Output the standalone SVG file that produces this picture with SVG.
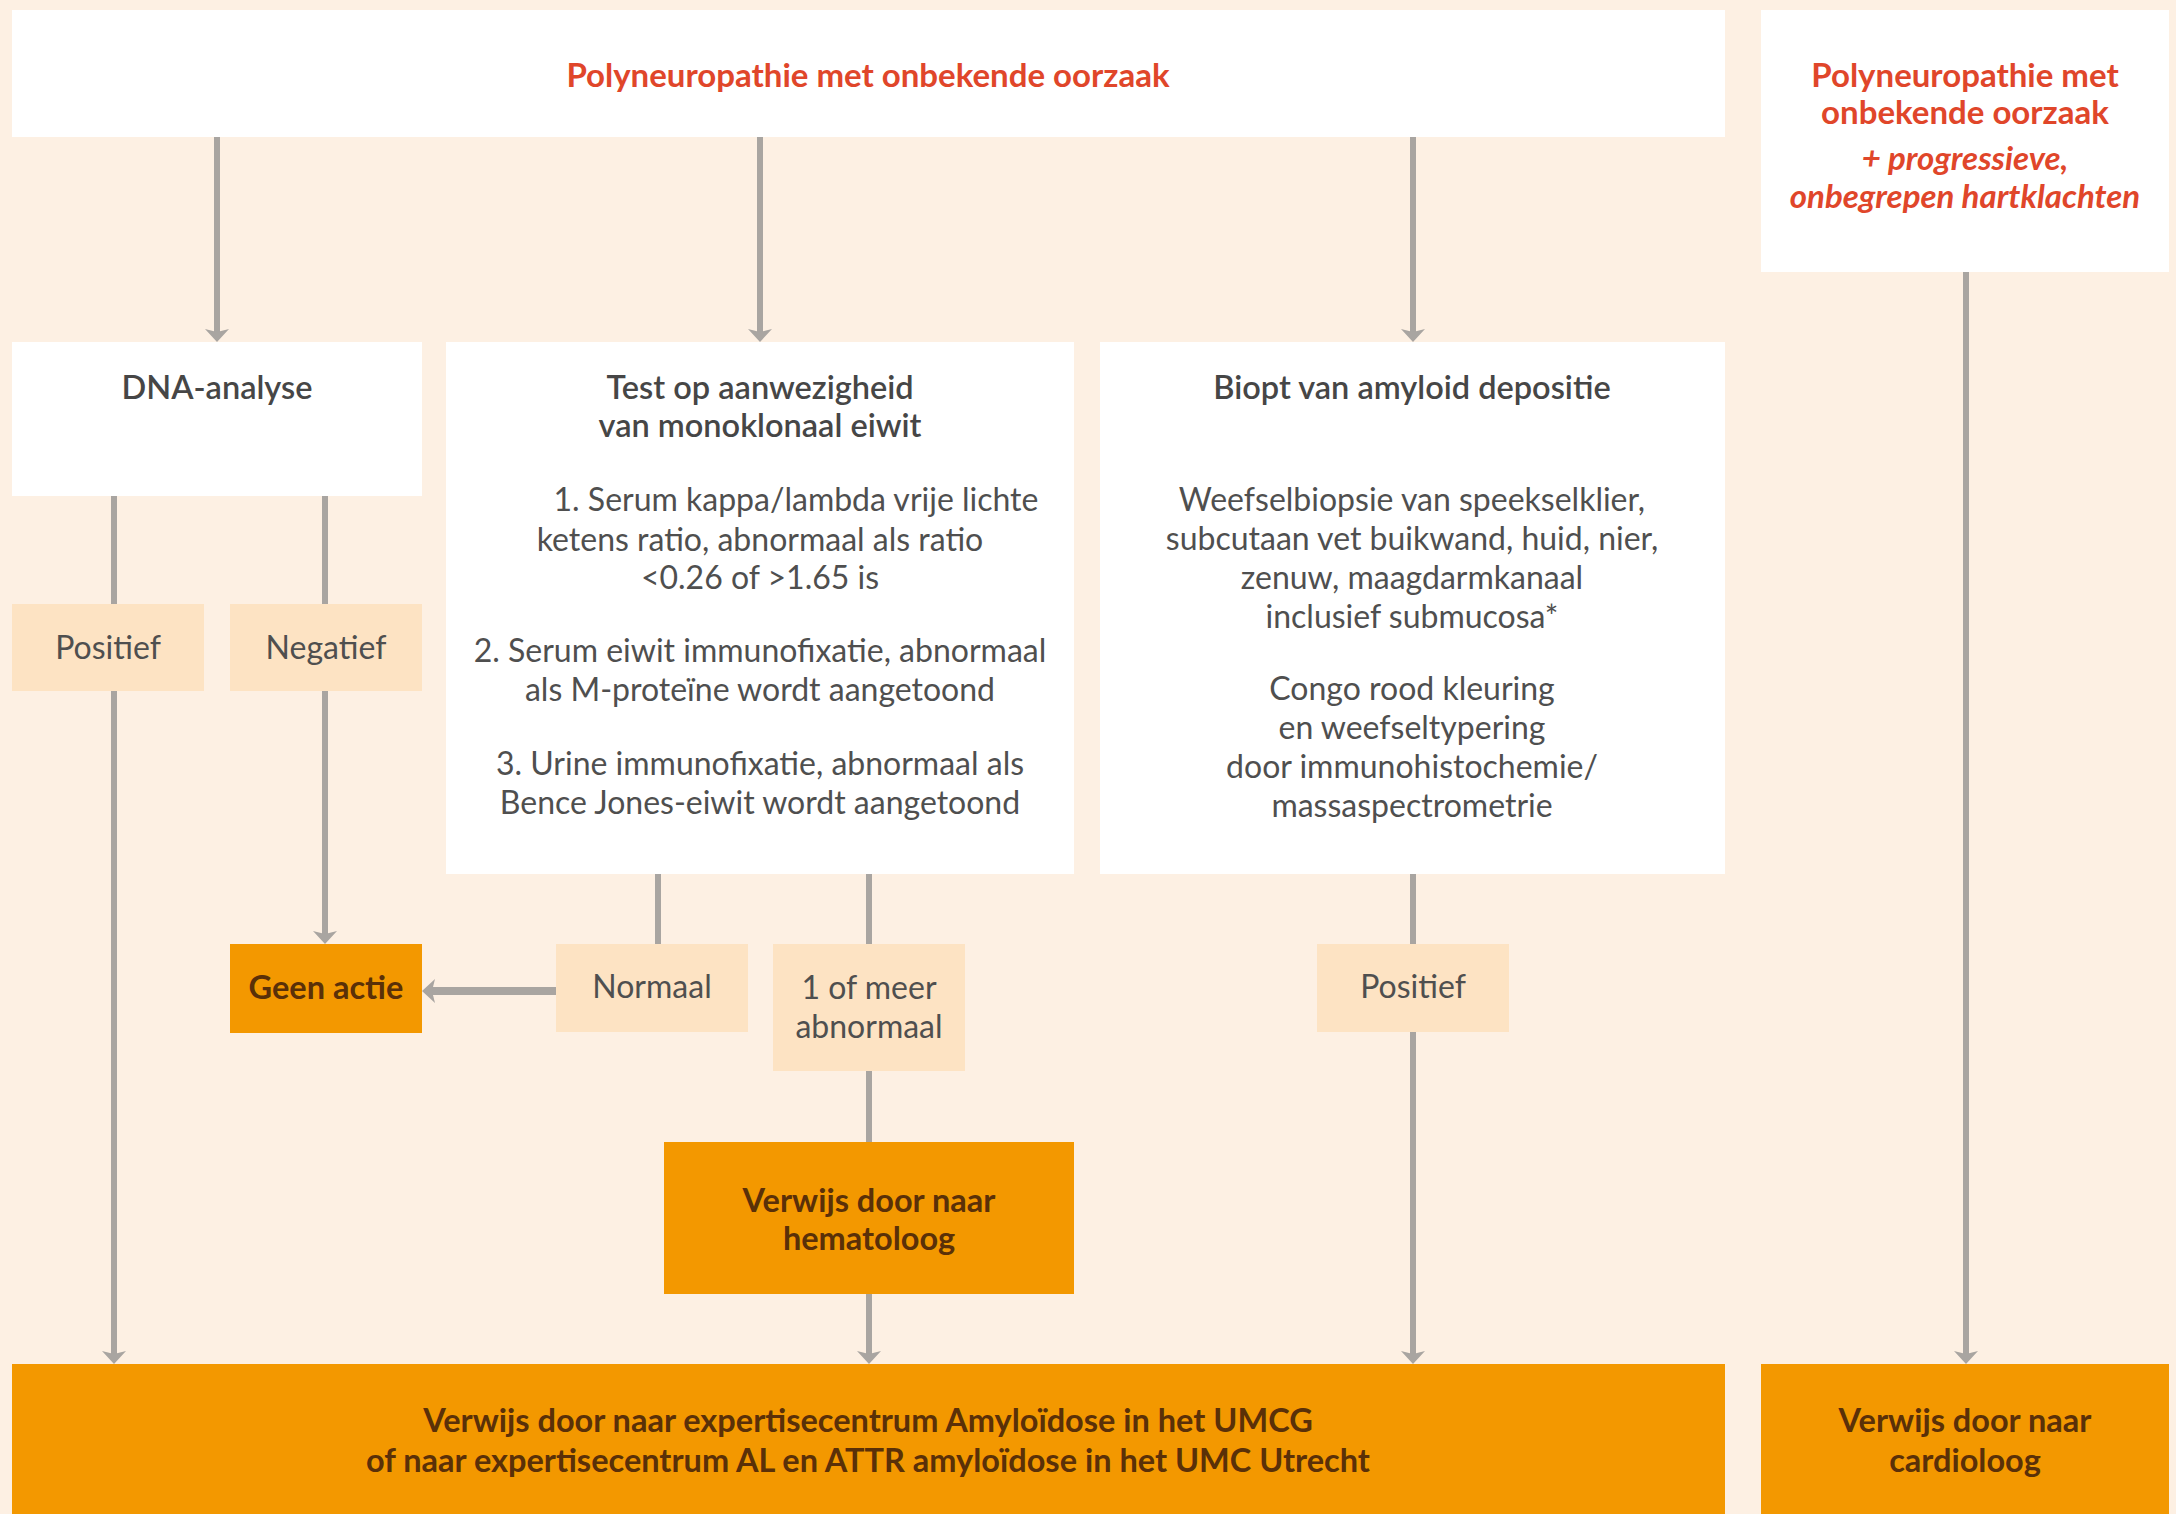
<svg xmlns="http://www.w3.org/2000/svg" width="2176" height="1514" viewBox="0 0 2176 1514">
  <defs>
    <marker id="arrow" markerUnits="userSpaceOnUse" markerWidth="16" markerHeight="26" viewBox="0 -13 16 26" refX="5" refY="0" orient="auto">
      <path d="M0,-12 L13,0 L0,12 L3,0 Z" fill="#a9a5a1"/>
    </marker>
    <style>
      text { font-family: Lato, "Open Sans", "Liberation Sans", sans-serif; text-anchor: middle; }
      .white { fill: #ffffff; }
      .label { fill: #fde3c3; }
      .orange { fill: #f39800; }
      .title { font-size: 33px; font-weight: 700; fill: #e0462a; }
      .titlei { font-size: 33px; font-weight: 700; font-style: italic; fill: #e0462a; }
      .head { font-size: 32.5px; font-weight: 600; fill: #464646; }
      .body { font-size: 32px; font-weight: 400; fill: #4f4f4f; }
      .lbl { font-size: 32px; font-weight: 400; fill: #4f4f4f; }
      .act { font-size: 32.5px; font-weight: 700; fill: #5a3008; }
      .conn { stroke: #a9a5a1; stroke-width: 6; fill: none; }
      .connw { stroke: #a9a5a1; stroke-width: 8; fill: none; }
    </style>
  </defs>
  <rect x="0" y="0" width="2176" height="1514" fill="#fdf0e3"/>

  <g id="connectors">
    <line class="conn" x1="217" y1="137" x2="217" y2="334" marker-end="url(#arrow)"/>
    <line class="conn" x1="760" y1="137" x2="760" y2="334" marker-end="url(#arrow)"/>
    <line class="conn" x1="1413" y1="137" x2="1413" y2="334" marker-end="url(#arrow)"/>
    <line class="conn" x1="1966" y1="272" x2="1966" y2="1356" marker-end="url(#arrow)"/>
    <line class="conn" x1="114" y1="496" x2="114" y2="604"/>
    <line class="conn" x1="114" y1="691" x2="114" y2="1356" marker-end="url(#arrow)"/>
    <line class="conn" x1="325" y1="496" x2="325" y2="604"/>
    <line class="conn" x1="325" y1="691" x2="325" y2="936" marker-end="url(#arrow)"/>
    <line class="conn" x1="658" y1="874" x2="658" y2="944"/>
    <line class="connw" x1="556" y1="991" x2="430" y2="991" marker-end="url(#arrow)"/>
    <line class="conn" x1="869" y1="874" x2="869" y2="944"/>
    <line class="conn" x1="869" y1="1071" x2="869" y2="1142"/>
    <line class="conn" x1="869" y1="1294" x2="869" y2="1356" marker-end="url(#arrow)"/>
    <line class="conn" x1="1413" y1="874" x2="1413" y2="944"/>
    <line class="conn" x1="1413" y1="1032" x2="1413" y2="1356" marker-end="url(#arrow)"/>
  </g>

  <g id="start">
    <rect class="white" x="12" y="10" width="1713" height="127"/>
    <text class="title" x="868" y="87">Polyneuropathie met onbekende oorzaak</text>
  </g>

  <g id="start-cardiac">
    <rect class="white" x="1761" y="10" width="408" height="262"/>
    <text class="title" x="1965" y="87">Polyneuropathie met</text>
    <text class="title" x="1965" y="124">onbekende oorzaak</text>
    <text class="titlei" x="1965" y="170">+ progressieve,</text>
    <text class="titlei" x="1965" y="208">onbegrepen hartklachten</text>
  </g>

  <g id="dna">
    <rect class="white" x="12" y="342" width="410" height="154"/>
    <text class="head" x="217" y="399">DNA-analyse</text>
  </g>

  <g id="test">
    <rect class="white" x="446" y="342" width="628" height="532"/>
    <text class="head" x="760" y="399">Test op aanwezigheid</text>
    <text class="head" x="760" y="437">van monoklonaal eiwit</text>
    <text class="body" x="796" y="511">1. Serum kappa/lambda vrije lichte</text>
    <text class="body" x="760" y="551">ketens ratio, abnormaal als ratio</text>
    <text class="body" x="760" y="589">&lt;0.26 of &gt;1.65 is</text>
    <text class="body" x="760" y="662">2. Serum eiwit immunofixatie, abnormaal</text>
    <text class="body" x="760" y="701">als M-proteïne wordt aangetoond</text>
    <text class="body" x="760" y="775">3. Urine immunofixatie, abnormaal als</text>
    <text class="body" x="760" y="814">Bence Jones-eiwit wordt aangetoond</text>
  </g>

  <g id="biopt">
    <rect class="white" x="1100" y="342" width="625" height="532"/>
    <text class="head" x="1412" y="399">Biopt van amyloid depositie</text>
    <text class="body" x="1412" y="511">Weefselbiopsie van speekselklier,</text>
    <text class="body" x="1412" y="550">subcutaan vet buikwand, huid, nier,</text>
    <text class="body" x="1412" y="589">zenuw, maagdarmkanaal</text>
    <text class="body" x="1412" y="628">inclusief submucosa*</text>
    <text class="body" x="1412" y="700">Congo rood kleuring</text>
    <text class="body" x="1412" y="739">en weefseltypering</text>
    <text class="body" x="1412" y="778">door immunohistochemie/</text>
    <text class="body" x="1412" y="817">massaspectrometrie</text>
  </g>

  <g id="dna-positief">
    <rect class="label" x="12" y="604" width="192" height="87"/>
    <text class="lbl" x="108" y="659">Positief</text>
  </g>

  <g id="dna-negatief">
    <rect class="label" x="230" y="604" width="192" height="87"/>
    <text class="lbl" x="326" y="659">Negatief</text>
  </g>

  <g id="geen-actie">
    <rect class="orange" x="230" y="944" width="192" height="89"/>
    <text class="act" x="326" y="999">Geen actie</text>
  </g>

  <g id="normaal">
    <rect class="label" x="556" y="944" width="192" height="88"/>
    <text class="lbl" x="652" y="998">Normaal</text>
  </g>

  <g id="abnormaal">
    <rect class="label" x="773" y="944" width="192" height="127"/>
    <text class="lbl" x="869" y="999">1 of meer</text>
    <text class="lbl" x="869" y="1038">abnormaal</text>
  </g>

  <g id="biopt-positief">
    <rect class="label" x="1317" y="944" width="192" height="88"/>
    <text class="lbl" x="1413" y="998">Positief</text>
  </g>

  <g id="hematoloog">
    <rect class="orange" x="664" y="1142" width="410" height="152"/>
    <text class="act" x="869" y="1212">Verwijs door naar</text>
    <text class="act" x="869" y="1250">hematoloog</text>
  </g>

  <g id="expertisecentrum">
    <rect class="orange" x="12" y="1364" width="1713" height="150"/>
    <text class="act" x="868" y="1432">Verwijs door naar expertisecentrum Amyloïdose in het UMCG</text>
    <text class="act" x="868" y="1472">of naar expertisecentrum AL en ATTR amyloïdose in het UMC Utrecht</text>
  </g>

  <g id="cardioloog">
    <rect class="orange" x="1761" y="1364" width="408" height="150"/>
    <text class="act" x="1965" y="1432">Verwijs door naar</text>
    <text class="act" x="1965" y="1472">cardioloog</text>
  </g>
</svg>
